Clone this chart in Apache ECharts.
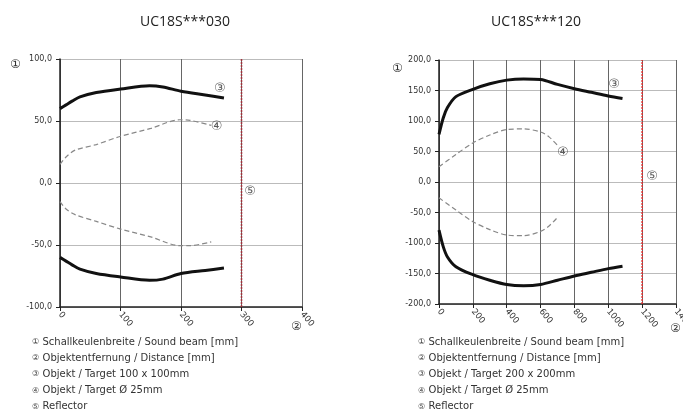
<!DOCTYPE html>
<html><head><meta charset="utf-8">
<script src="https://cdn.jsdelivr.net/npm/echarts@6/dist/echarts.min.js"></script>
<style>html,body{margin:0;padding:0;background:#fff;}#c{width:683px;height:412px;}</style>
</head><body><div id="c"></div>
<script>
// ---- Data: UC18S***030 ----
const titleA = 'UC18S***030';
const targetA_x = [0, 10, 20, 33, 60, 100, 148, 170, 200, 240, 271];
const targetA_upper = [60, 63, 66, 69.5, 73, 75.8, 78.5, 77.5, 74, 71, 68.6];
const targetA_lower = [-60, -63, -66, -69.5, -73, -75.8, -78.5, -77.5, -73, -70.5, -68.6];
const rodA_x = [0, 10, 25, 60, 99, 150, 198, 215, 250];
const rodA_upper = [15, 21, 26.5, 31, 37.5, 44, 51, 50.5, 46.5];
const rodA_lower = [-15, -21, -25.5, -31, -37, -43.5, -50.5, -50.5, -47.5];
const reflectorA = 300;
const xTicksA = {min: 0, max: 400, interval: 100};
const yTicksA = {min: -100, max: 100, interval: 50};
const markA = [['③', 264, 76], ['④', 259, 45.5], ['⑤', 314, -7]];

// ---- Data: UC18S***120 ----
const titleB = 'UC18S***120';
const targetB_x = [0, 25, 50, 100, 200, 300, 400, 500, 600, 700, 800, 900, 1000, 1084];
const targetB_upper = [78, 105, 122, 140, 152, 161, 167, 169, 168, 160, 153, 147, 141, 137];
const targetB_lower = [-79, -106, -123, -139, -152, -161, -168, -170, -168, -161, -154, -148, -142, -138];
const rodB_x = [0, 100, 200, 300, 400, 500, 600, 650, 700];
const rodB_upper = [25, 45, 64, 77, 86, 87, 82, 74, 60];
const rodB_lower = [-26, -46, -65, -78, -87, -88, -81, -72, -58];
const reflectorB = 1200;
const xTicksB = {min: 0, max: 1400, interval: 200};
const yTicksB = {min: -200, max: 200, interval: 50};
const markB = [['③', 1034, 159], ['④', 731, 48], ['⑤', 1258, 8]];

const legendA = ['Schallkeulenbreite / Sound beam [mm]', 'Objektentfernung / Distance [mm]', 'Objekt / Target 100 x 100mm', 'Objekt / Target Ø 25mm', 'Reflector'];
const legendB = ['Schallkeulenbreite / Sound beam [mm]', 'Objektentfernung / Distance [mm]', 'Objekt / Target 200 x 200mm', 'Objekt / Target Ø 25mm', 'Reflector'];
const circled = ['①', '②', '③', '④', '⑤'];

const zip = (xs, ys) => xs.map((x, i) => [x, ys[i]]);
const fmt = v => v.toFixed(1).replace('.', ',');
const FONT = 'DejaVu Sans';

function axesFor(ticks, yt, gi) {
  return {
    x: {
      type: 'value', gridIndex: gi, min: ticks.min, max: ticks.max, interval: ticks.interval,
      axisLine: {show: true, onZero: false, lineStyle: {color: '#222', width: 1.5}},
      axisTick: {show: true, length: 4, lineStyle: {color: '#222'}},
      axisLabel: {rotate: -50, color: '#333', fontSize: 8.5, fontFamily: FONT, margin: 6, formatter: v => String(v)},
      splitLine: {show: true, lineStyle: {color: '#666', width: 1}}
    },
    y: {
      type: 'value', gridIndex: gi, min: yt.min, max: yt.max, interval: yt.interval,
      axisLine: {show: true, onZero: false, lineStyle: {color: '#222', width: 1.5}},
      axisTick: {show: true, length: 4, lineStyle: {color: '#222'}},
      axisLabel: {color: '#333', fontSize: 8, fontFamily: FONT, margin: 8, formatter: fmt},
      splitLine: {show: true, lineStyle: {color: '#bbb', width: 1}}
    }
  };
}

function seriesFor(gi, tx, tu, tl, rx, ru, rl, refl, yt, marks, reflColor) {
  const solid = {color: '#111', width: 3};
  const dashed = {color: '#888', width: 1.2, type: [5, 3]};
  const base = {type: 'line', xAxisIndex: gi, yAxisIndex: gi, smooth: 0.3, showSymbol: false, symbol: 'none', silent: true, animation: false};
  return [
    Object.assign({}, base, {data: zip(tx, tu), lineStyle: solid}),
    Object.assign({}, base, {data: zip(tx, tl), lineStyle: solid}),
    Object.assign({}, base, {data: zip(rx, ru), lineStyle: dashed}),
    Object.assign({}, base, {data: zip(rx, rl), lineStyle: dashed}),
    Object.assign({}, base, {smooth: false, data: [[refl, yt.min], [refl, yt.max]], lineStyle: {color: reflColor, width: 1.5, type: [2, 1]}}),
    {type: 'scatter', xAxisIndex: gi, yAxisIndex: gi, symbolSize: 0, silent: true, animation: false,
     data: marks.map(m => ({value: [m[1], m[2]], name: m[0]})),
     label: {show: true, position: 'inside', formatter: p => p.name, fontSize: 13, color: '#333', fontFamily: FONT}}
  ];
}

const A = axesFor(xTicksA, yTicksA, 0);
const B = axesFor(xTicksB, yTicksB, 1);

function legendGraphic(lines, x, y0) {
  return lines.map((t, i) => ({
    type: 'text', left: x, top: y0 + i * 16.2,
    style: {
      text: '{n|' + circled[i] + '} {t|' + t + '}',
      rich: {
        n: {fontSize: 8, fontFamily: FONT, fill: '#444'},
        t: {fontSize: 10, fontFamily: FONT, fill: '#333'}
      }
    }
  }));
}

const option = {
  backgroundColor: '#fff',
  animation: false,
  title: [
    {text: titleA, left: 180, top: 10, textAlign: 'center', textStyle: {fontSize: 14, fontWeight: 'normal', color: '#222', fontFamily: 'Open Sans'}},
    {text: titleB, left: 531, top: 10, textAlign: 'center', textStyle: {fontSize: 14, fontWeight: 'normal', color: '#222', fontFamily: 'Open Sans'}}
  ],
  grid: [
    {left: 60, top: 59, width: 242, height: 248, show: false, containLabel: false, outerBoundsMode: 'none'},
    {left: 439, top: 60, width: 237, height: 244, show: false, containLabel: false, outerBoundsMode: 'none'}
  ],
  xAxis: [A.x, B.x],
  yAxis: [A.y, B.y],
  series: [
    ...seriesFor(0, targetA_x, targetA_upper, targetA_lower, rodA_x, rodA_upper, rodA_lower, reflectorA, yTicksA, markA, '#a0303a'),
    ...seriesFor(1, targetB_x, targetB_upper, targetB_lower, rodB_x, rodB_upper, rodB_lower, reflectorB, yTicksB, markB, '#e03030')
  ],
  graphic: [
    {type: 'text', left: 10, top: 59, style: {text: '①', fontSize: 12, fill: '#333', fontFamily: FONT}},
    {type: 'text', left: 392, top: 63, style: {text: '①', fontSize: 12, fill: '#333', fontFamily: FONT}},
    {type: 'text', left: 291, top: 321, style: {text: '②', fontSize: 12, fill: '#333', fontFamily: FONT}},
    {type: 'text', left: 670, top: 323, style: {text: '②', fontSize: 12, fill: '#333', fontFamily: FONT}},
    ...legendGraphic(legendA, 32, 336),
    ...legendGraphic(legendB, 418, 336)
  ]
};

const chart = echarts.init(document.getElementById('c'), null, {renderer: 'canvas'});
chart.setOption(option);
</script>
</body></html>
